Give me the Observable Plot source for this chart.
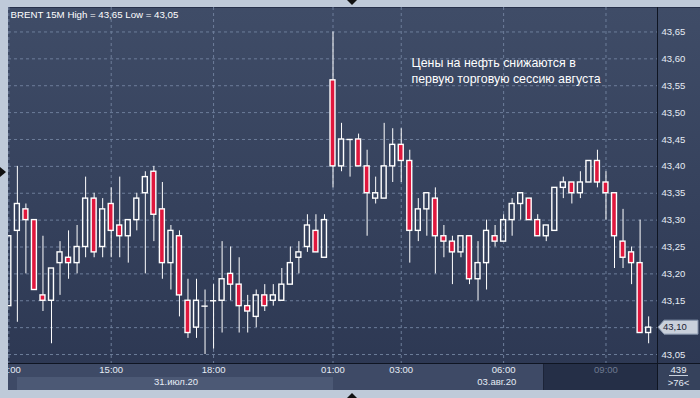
<!DOCTYPE html>
<html><head><meta charset="utf-8">
<script src="https://cdn.jsdelivr.net/npm/d3@7"></script>
<script src="https://cdn.jsdelivr.net/npm/@observablehq/plot@0.6"></script>
<style>
html,body{margin:0;padding:0;background:#bfcad9;}
#wrap{position:relative;width:700px;height:398px;overflow:hidden;background:#bfcad9;font-family:"Liberation Sans",Arial,sans-serif;}
#panel{position:absolute;left:8px;top:7px;width:692px;height:383px;background:linear-gradient(#3f4c67,#2c3752);border-top:1px solid #26304a;box-sizing:border-box;}
#tband{position:absolute;left:8px;top:363px;width:649px;height:27px;background:#3e4a66;}
#dband{position:absolute;left:17px;top:377px;width:316px;height:13px;background:#4c5975;}
#future{position:absolute;left:543px;top:363px;width:114px;height:27px;background:#252f47;border-left:1px solid #1c2438;}
#corner{position:absolute;left:657px;top:363px;width:43px;height:27px;background:#36425c;color:#e6ecf5;font-size:9.5px;text-align:center;}
#corner .a{position:absolute;left:0;width:43px;top:1px;}
#corner .u{position:absolute;left:12px;width:19px;top:12px;border-top:1px solid #c9d1dd;}
#corner .b{position:absolute;left:0;width:43px;top:14px;}
#vsep{position:absolute;left:657px;top:7px;width:1px;height:383px;background:#0f1522;}
#hsep{position:absolute;left:8px;top:363px;width:692px;height:1px;background:#0f1522;}
#chart{position:absolute;left:8px;top:7px;width:692px;height:383px;}
.tri{position:absolute;width:0;height:0;}
#triL{left:0;top:167px;border-top:5px solid transparent;border-bottom:5px solid transparent;border-left:6px solid #111;}
#triT{left:347px;top:0;border-left:5px solid transparent;border-right:5px solid transparent;border-top:5px solid #111;}
#triB{left:347px;top:393px;border-left:5px solid transparent;border-right:5px solid transparent;border-bottom:5px solid #111;}
</style>
</head><body>
<div id="wrap">
  <div id="panel"></div>
  <div id="tband"></div>
  <div id="dband"></div>
  <div id="future"></div>
  <div id="corner"><div class="a">439</div><div class="u"></div><div class="b">&gt;76&lt;</div></div>
  <div id="vsep"></div>
  <div id="hsep"></div>
  <div id="chart"></div>
  <div class="tri" id="triL"></div>
  <div class="tri" id="triT"></div>
  <div class="tri" id="triB"></div>
</div>
<script>
// 15-minute slots, slot 0 = 31 Jul 15:00, slot 26 = 03 Aug 01:00
const firstSlot = -12;
const opens = [
  43.14,43.28,43.32,43.30,43.16,43.15,43.22,43.23,43.22,43.25,43.34,43.25,
  43.33,43.29,43.27,43.30,43.35,43.39,43.32,43.22,43.27,43.15,43.10,43.14,
  43.15,43.15,43.20,43.18,43.14,43.12,43.16,43.15,43.15,43.18,43.23,43.25,
  43.28,43.23,43.56,43.40,43.45,43.45,43.40,43.34,43.34,43.40,43.44,43.41,
  43.28,43.32,43.34,43.27,43.26,43.24,43.27,43.19,43.22,43.27,43.26,43.30,
  43.33,43.34,43.30,43.27,43.28,43.36,43.37,43.35,43.37,43.41,43.37,43.35,
  43.26,43.24,43.22,43.09];
const highs = [
  43.27,43.40,43.33,43.30,43.27,43.21,43.26,43.28,43.29,43.38,43.35,43.34,
  43.36,43.38,43.30,43.35,43.39,43.40,43.37,43.29,43.28,43.19,43.19,43.17,
  43.18,43.26,43.25,43.23,43.16,43.17,43.18,43.18,43.21,43.25,43.26,43.31,
  43.31,43.31,43.65,43.48,43.45,43.46,43.43,43.38,43.48,43.47,43.47,43.43,
  43.34,43.35,43.36,43.29,43.27,43.27,43.27,43.26,43.30,43.29,43.31,43.34,
  43.35,43.34,43.31,43.29,43.36,43.38,43.37,43.39,43.41,43.43,43.39,43.35,
  43.32,43.25,43.30,43.12];
const lows = [
  43.14,43.11,43.20,43.17,43.13,43.07,43.16,43.19,43.20,43.23,43.23,43.23,
  43.23,43.23,43.22,43.28,43.20,43.26,43.19,43.17,43.12,43.08,43.08,43.05,
  43.06,43.09,43.15,43.09,43.09,43.10,43.13,43.14,43.15,43.18,43.20,43.24,
  43.24,43.23,43.36,43.39,43.38,43.40,43.27,43.33,43.34,43.37,43.37,43.22,
  43.26,43.27,43.20,43.23,43.18,43.23,43.18,43.15,43.17,43.25,43.26,43.27,
  43.30,43.30,43.27,43.26,43.28,43.34,43.33,43.34,43.37,43.36,43.30,43.21,
  43.21,43.18,43.09,43.07];
const closes = [
  43.27,43.33,43.30,43.17,43.15,43.21,43.24,43.22,43.25,43.34,43.24,43.32,
  43.28,43.27,43.30,43.34,43.38,43.31,43.22,43.28,43.16,43.09,43.15,43.14,
  43.15,43.19,43.18,43.14,43.13,43.16,43.14,43.16,43.18,43.22,43.24,43.29,
  43.24,43.30,43.40,43.45,43.45,43.40,43.35,43.35,43.40,43.44,43.41,43.28,
  43.32,43.35,43.27,43.26,43.24,43.27,43.19,43.22,43.28,43.26,43.30,43.33,
  43.35,43.30,43.27,43.29,43.36,43.37,43.35,43.37,43.41,43.37,43.35,43.27,
  43.23,43.22,43.09,43.10];

const priceTicks = [43.05,43.10,43.15,43.20,43.25,43.30,43.35,43.40,43.45,43.50,43.55,43.60,43.65];
const timeSlots = [-12,0,12,26,34,46,58];
const timeLabels = ["12:00","15:00","18:00","01:00","03:00","06:00","09:00"];
const dateSlots = [7.6,45.2];
const dateLabels = ["31.июл.20","03.авг.20"];
const title = "BRENT 15M High = 43,65 Low = 43,05";
const note = "Цены на нефть снижаются в\nпервую торговую сессию августа";
const noteSlot = 35.2, notePrice = 43.604;

const candles = opens.map((o,i)=>({slot:firstSlot+i, open:o, high:highs[i], low:lows[i], close:closes[i]}));
const bear = candles.filter(d=>d.close<d.open);
const bull = candles.filter(d=>d.close>d.open);
const doji = candles.filter(d=>d.close===d.open);
const fmt = v => v.toFixed(2).replace(".", ",");
const lastClose = closes[closes.length-1];
const hw = 0.29;
const RED = "#e0173d";
const txt = "#e6ecf5";

const plot = Plot.plot({
  width: 692, height: 383,
  marginLeft: 0, marginRight: 43, marginTop: 0, marginBottom: 27,
  style: {background: "transparent", color: txt, fontFamily: "Liberation Sans, Arial, sans-serif", fontSize: "9.5px"},
  x: {type: "linear", domain: [-12.04, 64.04], label: null},
  y: {domain: [43.0333, 43.6955], label: null},
  marks: [
    Plot.ruleY(priceTicks, {stroke: "#6d7d9a", strokeDasharray: "3,3", strokeWidth: 1}),
    Plot.ruleX(timeSlots, {stroke: "#6d7d9a", strokeDasharray: "3,3", strokeWidth: 1}),
    Plot.ruleX(candles, {x: "slot", y1: "high", y2: d=>Math.max(d.open,d.close), stroke: "white", strokeWidth: 1}),
    Plot.ruleX(candles, {x: "slot", y1: "low", y2: d=>Math.min(d.open,d.close), stroke: "white", strokeWidth: 1}),
    Plot.rect(bull, {x1: d=>d.slot-hw, x2: d=>d.slot+hw, y1: "open", y2: "close", fill: "none", stroke: "white", strokeWidth: 1.4}),
    Plot.rect(bear, {x1: d=>d.slot-hw, x2: d=>d.slot+hw, y1: "open", y2: "close", fill: RED, stroke: "white", strokeWidth: 1.4}),
    Plot.ruleY(doji, {y: "open", x1: d=>d.slot-hw-0.08, x2: d=>d.slot+hw+0.08, stroke: "white", strokeWidth: 1.4}),
    Plot.axisY(priceTicks.filter(t=>Math.abs(t-lastClose)>1e-9), {anchor: "right", tickSize: 0, tickPadding: 4, tickFormat: fmt, label: null, fill: txt}),
    Plot.axisX(timeSlots.filter(s=>s!==58), {anchor: "bottom", tickSize: 0, tickPadding: 3, tickFormat: d=>timeLabels[timeSlots.indexOf(d)], label: null, fill: txt}),
    Plot.axisX([58], {anchor: "bottom", tickSize: 0, tickPadding: 3, tickFormat: d=>timeLabels[timeSlots.indexOf(d)], label: null, fill: "#6f7a90"}),
    Plot.axisX(dateSlots, {anchor: "bottom", tickSize: 0, tickPadding: 15, tickFormat: d=>dateLabels[dateSlots.indexOf(d)], label: null, fill: txt}),
    Plot.text([title], {frameAnchor: "top-left", dx: 2, dy: 4, fill: "white", fontSize: 9.7, textAnchor: "start"}),
    Plot.text([note], {x: noteSlot, y: notePrice, textAnchor: "start", lineAnchor: "top", fill: "white", fontSize: 12.4, lineHeight: 1.22})
  ]
});

const ys = plot.scale("y");
const ty = ys.apply(lastClose);
const g = d3.select(plot).append("g");
g.append("path")
  .attr("d", `M650,${ty} L656,${ty-7} H690 V${ty+7} H656 Z`)
  .attr("fill", "#c9d0db").attr("stroke", "#8593aa").attr("stroke-width", 1);
g.append("text").attr("x", 655).attr("y", ty).attr("dy", "0.35em")
  .attr("text-anchor", "start").attr("font-size", 9.5).attr("fill", "#1b2233").text(fmt(lastClose));

document.getElementById("chart").appendChild(plot);
</script>
</body></html>
